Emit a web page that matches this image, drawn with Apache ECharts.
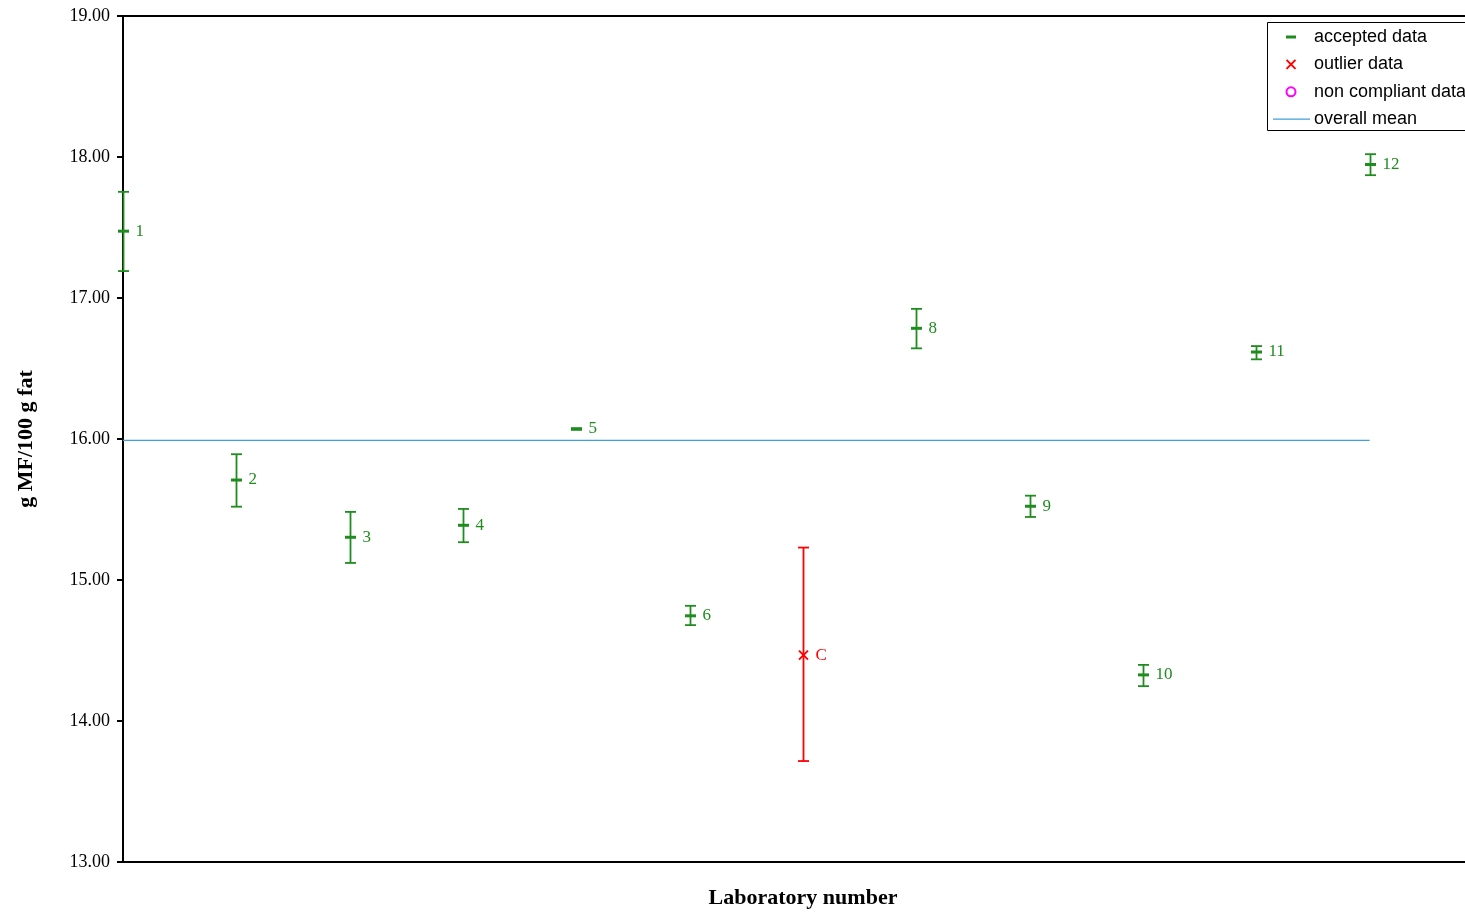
<!DOCTYPE html>
<html>
<head>
<meta charset="utf-8">
<title>Laboratory results</title>
<script src="https://cdn.jsdelivr.net/npm/echarts@6/dist/echarts.min.js"></script>
<style>
  html, body { margin: 0; padding: 0; background: #ffffff; overflow: hidden; }
  #chart { width: 1465px; height: 912px; }
</style>
</head>
<body>
<div id="chart"></div>
<script>
// Laboratory codes, in plotting order
const labs = ['1', '2', '3', '4', '5', '6', 'C', '8', '9', '10', '11', '12'];
// Reported mean per laboratory (g MF/100 g fat)
const means = [17.474, 15.709, 15.303, 15.388, 16.071, 14.746, 14.467, 16.785, 15.523, 14.327, 16.617, 17.947];
// Lower and upper ends of each laboratory's interval
const lowers = [17.191, 15.520, 15.121, 15.268, 16.066, 14.680, 13.716, 16.643, 15.447, 14.247, 16.565, 17.871];
const uppers = [17.753, 15.892, 15.483, 15.504, 16.076, 14.817, 15.230, 16.923, 15.598, 14.398, 16.659, 18.020];
// Classification of each laboratory
const status = ['accepted', 'accepted', 'accepted', 'accepted', 'accepted', 'accepted',
                'outlier', 'accepted', 'accepted', 'accepted', 'accepted', 'accepted'];
// Mean over all laboratories
const overallMean = 15.99;
// Y-axis range and tick step
const yMin = 13, yMax = 19, yStep = 1;

const GREEN = '#1f8c1f';
const RED = '#ff0000';
const MAGENTA = '#ff00ff';
const BLUE = '#3f9fdc';
const SERIF = '"Liberation Serif", "Times New Roman", serif';
const SANS = '"Liberation Sans", Arial, sans-serif';

function rows(kind) {
  const out = [];
  labs.forEach(function (lab, i) {
    if (status[i] === kind) out.push([i + 1, means[i], lowers[i], uppers[i], i]);
  });
  return out;
}

function makeRenderer(color, marker) {
  return function (params, api) {
    const x = api.value(0);
    const idx = api.value(4);
    const pMean = api.coord([x, api.value(1)]);
    const pLow = api.coord([x, api.value(2)]);
    const pHigh = api.coord([x, api.value(3)]);
    const cx = Math.round(pMean[0]) + 0.5;
    const cap = 5.5;
    const lineStyle = { stroke: color, lineWidth: 1.8 };
    const children = [
      { type: 'line', shape: { x1: cx, y1: pHigh[1], x2: cx, y2: pLow[1] }, style: lineStyle },
      { type: 'line', shape: { x1: cx - cap, y1: pHigh[1], x2: cx + cap, y2: pHigh[1] }, style: lineStyle },
      { type: 'line', shape: { x1: cx - cap, y1: pLow[1], x2: cx + cap, y2: pLow[1] }, style: lineStyle }
    ];
    if (marker === 'dash') {
      children.push({ type: 'rect', shape: { x: cx - 5.5, y: pMean[1] - 1.5, width: 11, height: 3 },
                      style: { fill: color } });
    } else {
      const s = 4.5;
      children.push({ type: 'line', shape: { x1: cx - s, y1: pMean[1] - s, x2: cx + s, y2: pMean[1] + s },
                      style: { stroke: color, lineWidth: 2 } });
      children.push({ type: 'line', shape: { x1: cx - s, y1: pMean[1] + s, x2: cx + s, y2: pMean[1] - s },
                      style: { stroke: color, lineWidth: 2 } });
    }
    children.push({
      type: 'text',
      style: { text: labs[idx], x: cx + 12, y: pMean[1], verticalAlign: 'middle', align: 'left',
               font: '17px ' + SERIF, fill: color }
    });
    return { type: 'group', children: children };
  };
}

const chart = echarts.init(document.getElementById('chart'), null, { renderer: 'canvas' });

const legendTop = 22, legendLeft = 1267, rowH = 27.4, textX = 1314, iconX = 1291;
const legendRows = [
  { text: 'accepted data' },
  { text: 'outlier data' },
  { text: 'non compliant data' },
  { text: 'overall mean' }
];
const legendGraphics = [
  { type: 'rect', left: legendLeft, top: legendTop, shape: { x: 0, y: 0, width: 260, height: 108 },
    style: { fill: '#ffffff', stroke: '#000000', lineWidth: 1 }, z: 100 }
];
const y0 = legendTop + 15;
legendRows.forEach(function (r, i) {
  legendGraphics.push({ type: 'text', x: textX, y: y0 + i * rowH, z: 101,
    style: { text: r.text, font: '18px ' + SANS, fill: '#000000', verticalAlign: 'middle' } });
});
legendGraphics.push(
  { type: 'rect', z: 101, shape: { x: iconX - 5, y: y0 - 1.5, width: 10, height: 3 }, style: { fill: GREEN } },
  { type: 'line', z: 101, shape: { x1: iconX - 4.5, y1: y0 + rowH - 4.5, x2: iconX + 4.5, y2: y0 + rowH + 4.5 },
    style: { stroke: RED, lineWidth: 2 } },
  { type: 'line', z: 101, shape: { x1: iconX - 4.5, y1: y0 + rowH + 4.5, x2: iconX + 4.5, y2: y0 + rowH - 4.5 },
    style: { stroke: RED, lineWidth: 2 } },
  { type: 'circle', z: 101, shape: { cx: iconX, cy: y0 + 2 * rowH, r: 4.5 },
    style: { fill: 'none', stroke: MAGENTA, lineWidth: 2 } },
  { type: 'line', z: 101, shape: { x1: 1273, y1: y0 + 3 * rowH, x2: 1310, y2: y0 + 3 * rowH },
    style: { stroke: BLUE, lineWidth: 1.2 } }
);

chart.setOption({
  animation: false,
  backgroundColor: '#ffffff',
  grid: {
    left: 123, top: 16, width: 1360, height: 846,
    outerBoundsMode: 'none', containLabel: false,
    show: true, borderColor: '#000000', borderWidth: 2, backgroundColor: 'transparent'
  },
  xAxis: {
    type: 'value', min: 1, max: 13,
    name: 'Laboratory number', nameLocation: 'middle', nameGap: 25,
    nameTextStyle: { fontFamily: SERIF, fontWeight: 'bold', fontSize: 22, color: '#000000' },
    axisLine: { show: true, lineStyle: { color: '#000000', width: 2 } },
    axisTick: { show: false }, axisLabel: { show: false }, splitLine: { show: false }
  },
  yAxis: {
    type: 'value', min: yMin, max: yMax, interval: yStep,
    name: 'g MF/100 g fat', nameLocation: 'middle', nameGap: 86, nameRotate: 90,
    nameTextStyle: { fontFamily: SERIF, fontWeight: 'bold', fontSize: 22, color: '#000000' },
    axisLine: { show: true, lineStyle: { color: '#000000', width: 2 } },
    axisTick: { show: true, inside: false, length: 6, lineStyle: { color: '#000000', width: 2 } },
    axisLabel: { margin: 13, fontFamily: SERIF, fontSize: 18, color: '#000000',
                 formatter: function (v) { return v.toFixed(2); } },
    splitLine: { show: false }
  },
  series: [
    {
      name: 'overall mean', type: 'line', symbol: 'none',
      data: [[1, overallMean], [12, overallMean]],
      lineStyle: { color: BLUE, width: 1.2 }, z: 1
    },
    {
      name: 'accepted data', type: 'custom', data: rows('accepted'),
      encode: { x: 0, y: 1 }, renderItem: makeRenderer(GREEN, 'dash'), z: 3
    },
    {
      name: 'outlier data', type: 'custom', data: rows('outlier'),
      encode: { x: 0, y: 1 }, renderItem: makeRenderer(RED, 'cross'), z: 3
    }
  ],
  graphic: legendGraphics
});
</script>
</body>
</html>
